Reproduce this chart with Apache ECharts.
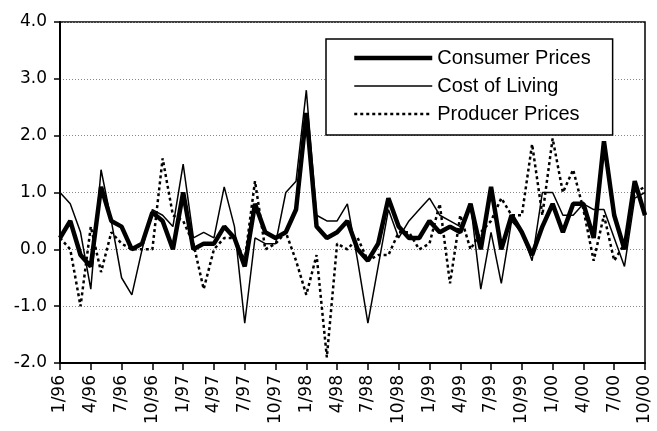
<!DOCTYPE html>
<html>
<head>
<meta charset="utf-8">
<script src="https://cdn.jsdelivr.net/npm/echarts@6/dist/echarts.min.js"></script>
<style>
	html, body { margin: 0; padding: 0; background: #fff; }
	#chart { width: 657px; height: 431px; }
</style>
</head>
<body>
<div id="chart"></div>
<script>
	// monthly labels, 1/96 .. 10/00
	var months = [];
	for (var y = 96; y <= 100; y++) {
		for (var m = 1; m <= 12; m++) {
			if (y == 100 && m > 10) break;
			months.push(m + '/' + String(y % 100).padStart(2, '0'));
		}
	}

	var consumerPrices = [0.2, 0.5, -0.1, -0.3, 1.1, 0.5, 0.4, 0.0, 0.1, 0.65,
		0.5, 0.0, 1.0, 0.0, 0.1, 0.1, 0.4, 0.2, -0.3, 0.8,
		0.3, 0.2, 0.3, 0.7, 2.4, 0.4, 0.2, 0.3, 0.5, 0.0,
		-0.2, 0.1, 0.9, 0.4, 0.2, 0.2, 0.5, 0.3, 0.4, 0.3,
		0.8, 0.0, 1.1, 0.0, 0.6, 0.3, -0.1, 0.4, 0.8, 0.3,
		0.8, 0.8, 0.2, 1.9, 0.6, 0.0, 1.2, 0.6];

	var costOfLiving = [1.0, 0.8, 0.3, -0.7, 1.4, 0.5, -0.5, -0.8, 0.0, 0.7,
		0.6, 0.4, 1.5, 0.2, 0.3, 0.2, 1.1, 0.4, -1.3, 0.2,
		0.1, 0.1, 1.0, 1.2, 2.8, 0.6, 0.5, 0.5, 0.8, -0.2,
		-1.3, -0.3, 0.7, 0.2, 0.5, 0.7, 0.9, 0.6, 0.5, 0.4,
		0.8, -0.7, 0.3, -0.6, 0.5, 0.3, -0.2, 1.0, 1.0, 0.6,
		0.6, 0.8, 0.7, 0.7, 0.2, -0.3, 0.9, 1.0];

	var producerPrices = [0.2, 0.0, -1.0, 0.4, -0.4, 0.3, 0.1, 0.0, 0.0, 0.0,
		1.6, 0.6, 0.5, 0.1, -0.7, 0.0, 0.2, 0.2, -0.2, 1.2,
		0.0, 0.1, 0.3, -0.2, -0.8, -0.1, -1.9, 0.1, 0.0, 0.2,
		-0.2, -0.1, -0.1, 0.3, 0.3, 0.0, 0.1, 0.8, -0.6, 0.6,
		0.0, 0.3, 0.5, 0.9, 0.6, 0.6, 1.85, 0.6, 1.95, 1.0,
		1.4, 0.7, -0.2, 0.6, -0.2, 0.1, 1.0, 1.1];

	var seriesNames = ['Consumer Prices', 'Cost of Living', 'Producer Prices'];
	var lineWidths = [4.5, 1.5, 2.5];

	var chart = echarts.init(document.getElementById('chart'));
	chart.setOption({
		animation: false,
		backgroundColor: '#fff',
		grid: {
			left: 60, right: 12, top: 22, bottom: 68,
			show: true,
			borderColor: '#000',
			borderWidth: 1.5
		},
		legend: {
			data: seriesNames.map(function (name, i) {
				return { name: name, lineStyle: { width: lineWidths[i] } };
			}),
			orient: 'vertical',
			left: 326,
			top: 39,
			padding: [9, 22, 11, 26],
			itemWidth: 78,
			itemHeight: 14,
			itemGap: 8,
			borderColor: '#000',
			borderWidth: 1.5,
			backgroundColor: '#fff',
			itemStyle: { opacity: 0 },
			textStyle: {
				color: '#000',
				fontFamily: 'Liberation Sans',
				fontSize: 20
			}
		},
		xAxis: {
			type: 'category',
			data: months,
			boundaryGap: false,
			axisLine: { onZero: false, lineStyle: { color: '#000', width: 2 } },
			axisTick: { interval: 2, length: 7, lineStyle: { color: '#000', width: 1.5 } },
			axisLabel: {
				interval: 2,
				rotate: 90,
				margin: 12,
				color: '#000',
				fontFamily: 'DejaVu Sans',
				fontSize: 17
			},
			splitLine: { show: false }
		},
		yAxis: {
			type: 'value',
			min: -2,
			max: 4,
			interval: 1,
			axisLine: { show: true, lineStyle: { color: '#000', width: 2 } },
			axisTick: { show: true, length: 6, lineStyle: { color: '#000', width: 1.5 } },
			axisLabel: {
				margin: 13,
				color: '#000',
				fontFamily: 'DejaVu Sans',
				fontSize: 17,
				formatter: function (v) { return v.toFixed(1); }
			},
			splitLine: { lineStyle: { color: '#888', type: [1, 2], width: 1 } }
		},
		series: [{
			name: seriesNames[0],
			type: 'line',
			data: consumerPrices,
			symbol: 'none',
			z: 4,
			lineStyle: { color: '#000', width: lineWidths[0] },
			itemStyle: { color: '#000' }
		}, {
			name: seriesNames[1],
			type: 'line',
			data: costOfLiving,
			symbol: 'none',
			z: 3,
			lineStyle: { color: '#000', width: lineWidths[1] },
			itemStyle: { color: '#000' }
		}, {
			name: seriesNames[2],
			type: 'line',
			data: producerPrices,
			symbol: 'none',
			z: 2,
			lineStyle: { color: '#000', width: lineWidths[2], type: [3, 3] },
			itemStyle: { color: '#000' }
		}]
	});
</script>
</body>
</html>
